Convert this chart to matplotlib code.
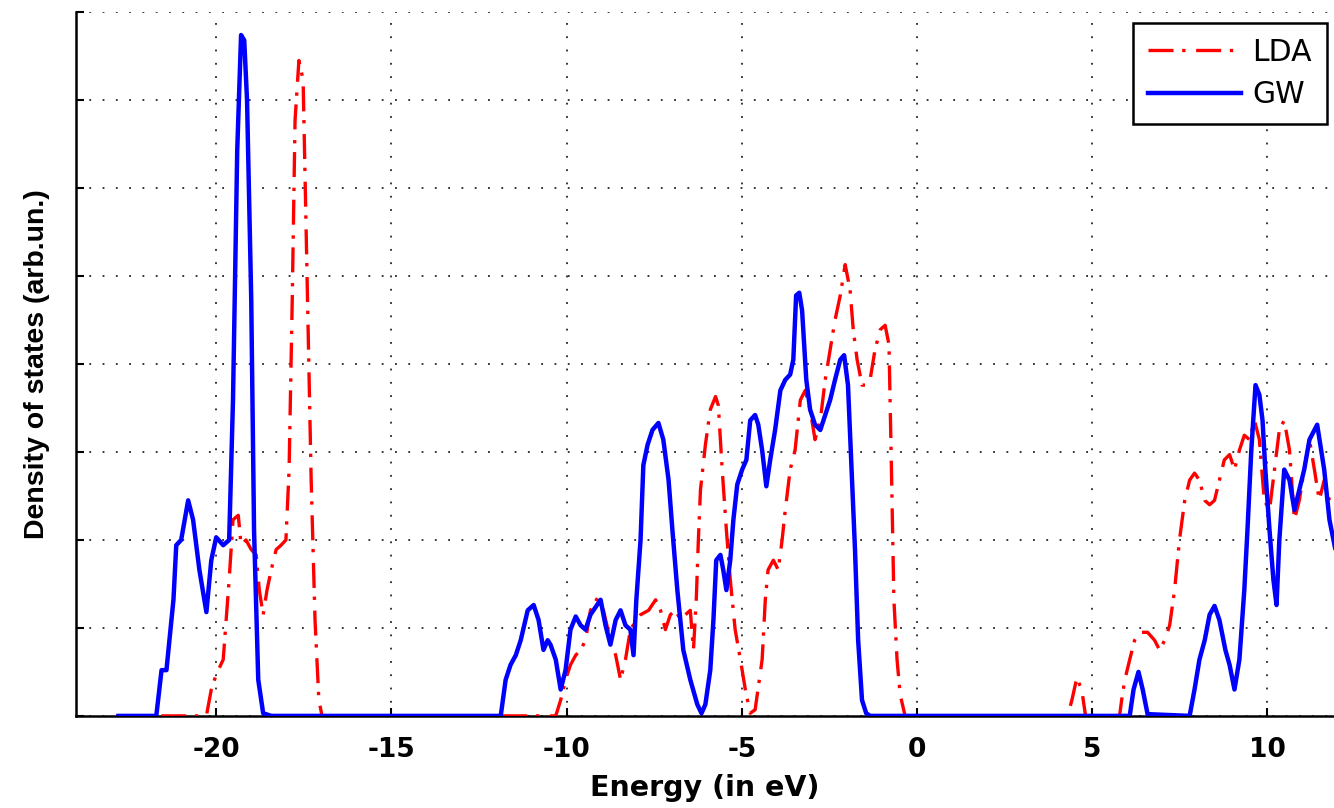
import matplotlib
matplotlib.use("Agg")
import matplotlib.pyplot as plt
import numpy as np

# Density of states, LDA vs GW (energies in eV, DOS in arbitrary units)
lda_energy = [
    -21.57, -20.28, -20.14, -20.00, -19.80, -19.63, -19.52, -19.37, -19.29, -19.15,
    -19.00, -18.86, -18.77, -18.66, -18.55, -18.43, -18.29, -18.15, -18.01, -17.92,
    -17.83, -17.75, -17.64, -17.52, -17.41, -17.29, -17.18, -17.07, -16.98,
    -10.31, -10.17, -10.03, -9.89, -9.74, -9.60, -9.46, -9.32, -9.12, -8.95,
    -8.75, -8.60, -8.46, -8.32, -8.18, -8.01, -7.89, -7.66, -7.46, -7.32,
    -7.18, -7.04, -6.89, -6.75, -6.61, -6.47, -6.38, -6.30, -6.24, -6.18,
    -6.04, -5.90, -5.75, -5.67, -5.56, -5.44, -5.33, -5.19, -5.04, -4.90,
    -4.76, -4.62, -4.42, -4.33, -4.25, -4.10, -3.96, -3.85, -3.76, -3.62,
    -3.48, -3.33, -3.19, -3.05, -2.91, -2.76, -2.62, -2.48, -2.34, -2.19,
    -2.05, -1.91, -1.82, -1.71, -1.57, -1.45, -1.34, -1.20, -1.05, -0.91,
    -0.80, -0.74, -0.66, -0.57, -0.48, -0.34,
    4.30, 4.42, 4.56, 4.70, 4.81,
    5.78, 5.84, 5.93, 6.07, 6.21, 6.35, 6.58, 6.78, 6.92, 7.07,
    7.21, 7.35, 7.49, 7.64, 7.78, 7.92, 8.06, 8.21, 8.35, 8.49,
    8.63, 8.77, 8.92, 9.06, 9.20, 9.34, 9.49, 9.63, 9.77, 9.91,
    10.06, 10.20, 10.34, 10.48, 10.63, 10.77, 10.91, 11.05, 11.20, 11.34,
    11.48, 11.62, 11.77, 11.94,
]
lda_dos = [
    0.0, 0.0, 0.30, 0.47, 0.64, 1.55, 2.23, 2.28, 1.94, 2.00,
    1.89, 1.83, 1.43, 1.15, 1.43, 1.66, 1.89, 1.94, 2.00, 2.80,
    4.73, 6.77, 7.45, 7.23, 5.07, 2.68, 1.09, 0.18, 0.0,
    0.0, 0.18, 0.41, 0.58, 0.69, 0.75, 0.86, 1.20, 1.34, 1.20,
    0.86, 0.69, 0.41, 0.64, 0.98, 1.09, 1.15, 1.20, 1.32, 1.20,
    0.98, 1.15, 1.20, 1.09, 1.15, 1.20, 0.75, 1.32, 2.00, 2.57,
    3.08, 3.48, 3.63, 3.53, 2.80, 2.11, 1.55, 0.98, 0.64, 0.30,
    0.03, 0.07, 0.64, 1.32, 1.66, 1.77, 1.66, 2.00, 2.34, 2.80,
    3.02, 3.59, 3.70, 3.48, 3.14, 3.36, 3.82, 4.16, 4.50, 4.78,
    5.13, 4.84, 4.39, 4.05, 3.76, 3.76, 3.82, 4.16, 4.39, 4.44,
    4.22, 3.02, 1.32, 0.64, 0.24, 0.0,
    0.0, 0.18, 0.43, 0.30, 0.0,
    0.0, 0.18, 0.41, 0.64, 0.86, 0.95, 0.95, 0.86, 0.75, 0.86,
    1.03, 1.43, 2.00, 2.45, 2.68, 2.76, 2.68, 2.45, 2.40, 2.45,
    2.68, 2.91, 2.97, 2.80, 3.02, 3.19, 3.14, 3.36, 3.14, 2.45,
    2.34, 2.80, 3.25, 3.36, 3.02, 2.23, 2.45, 2.80, 3.14, 2.80,
    2.45, 2.68, 2.45, 2.34,
]

gw_energy = [
    -22.79, -21.71, -21.56, -21.42, -21.22, -21.14, -21.00, -20.80, -20.66, -20.48,
    -20.28, -20.14, -20.00, -19.80, -19.63, -19.52, -19.40, -19.29, -19.20, -19.12,
    -19.00, -18.92, -18.80, -18.66, -18.43,
    -11.88, -11.74, -11.60, -11.45, -11.31, -11.11, -10.94, -10.80, -10.66, -10.54,
    -10.46, -10.31, -10.17, -10.03, -9.89, -9.74, -9.60, -9.46, -9.32, -9.03,
    -8.89, -8.75, -8.60, -8.46, -8.32, -8.18, -8.09, -8.01, -7.89, -7.81,
    -7.69, -7.55, -7.38, -7.24, -7.09, -6.98, -6.84, -6.67, -6.47, -6.27,
    -6.15, -6.04, -5.90, -5.81, -5.73, -5.61, -5.53, -5.44, -5.33, -5.24,
    -5.13, -4.99, -4.87, -4.76, -4.62, -4.53, -4.42, -4.30, -4.19, -4.05,
    -3.90, -3.76, -3.62, -3.53, -3.45, -3.36, -3.28, -3.16, -3.05, -2.91,
    -2.76, -2.62, -2.48, -2.34, -2.19, -2.08, -1.97, -1.88, -1.77, -1.68,
    -1.57, -1.45, -1.34,
    6.07, 6.18, 6.32, 6.44, 6.58,
    7.78, 7.92, 8.06, 8.21, 8.35, 8.49, 8.63, 8.80, 8.92, 9.06,
    9.20, 9.34, 9.43, 9.54, 9.66, 9.77, 9.86, 9.94, 10.06, 10.17,
    10.26, 10.34, 10.48, 10.63, 10.77, 10.91, 11.05, 11.20, 11.42, 11.62,
    11.77, 11.94,
]
gw_dos = [
    0.0, 0.0, 0.52, 0.52, 1.32, 1.94, 2.00, 2.45, 2.23, 1.66,
    1.18, 1.77, 2.03, 1.94, 2.00, 3.60, 6.43, 7.74, 7.68, 7.00,
    4.73, 2.11, 0.41, 0.03, 0.0,
    0.0, 0.41, 0.58, 0.69, 0.86, 1.20, 1.26, 1.09, 0.75, 0.86,
    0.81, 0.64, 0.30, 0.52, 0.98, 1.13, 1.03, 0.98, 1.15, 1.32,
    1.03, 0.81, 1.09, 1.20, 1.03, 0.98, 0.69, 1.32, 2.00, 2.85,
    3.08, 3.25, 3.33, 3.14, 2.68, 2.11, 1.43, 0.75, 0.41, 0.13,
    0.03, 0.13, 0.52, 1.09, 1.77, 1.83, 1.66, 1.43, 1.77, 2.23,
    2.63, 2.80, 2.91, 3.36, 3.42, 3.31, 3.02, 2.61, 2.91, 3.25,
    3.70, 3.82, 3.88, 4.05, 4.78, 4.81, 4.61, 3.82, 3.48, 3.31,
    3.25, 3.42, 3.59, 3.82, 4.05, 4.10, 3.76, 2.91, 1.89, 0.86,
    0.18, 0.03, 0.0,
    0.0, 0.30, 0.50, 0.30, 0.02,
    0.0, 0.30, 0.64, 0.86, 1.15, 1.25, 1.09, 0.75, 0.58, 0.30,
    0.64, 1.43, 2.11, 3.02, 3.76, 3.65, 3.36, 2.80, 2.11, 1.55,
    1.26, 2.00, 2.80, 2.68, 2.34, 2.57, 2.80, 3.14, 3.31, 2.80,
    2.23, 1.89,
]

x_ticks = [-20, -15, -10, -5, 0, 5, 10]
y_grid = [0, 1, 2, 3, 4, 5, 6, 7, 8]

plt.rcParams["font.family"] = ["DejaVu Sans"]
plt.rcParams["axes.unicode_minus"] = False

fig = plt.figure(figsize=(13.34, 8.08), dpi=100)
ax = fig.add_axes([0.057, 0.114, 0.943, 0.871])

ax.plot(lda_energy, lda_dos, color="#ff0000", lw=2.4,
        linestyle=(0, (7.5, 2.6, 1.0, 3.2)), label="LDA", zorder=3)
ax.plot(gw_energy, gw_dos, color="#0000ff", lw=3.2, label="GW", zorder=4)

ax.set_xlim(-24, 11.9)
ax.set_ylim(0, 8)
ax.set_xticks(x_ticks)
ax.set_yticks(y_grid)
ax.set_yticklabels([])
ax.set_xticklabels([str(t) for t in x_ticks], fontsize=19, fontweight="bold")

ax.grid(True, color="black", linestyle=(0, (1.2, 7.5)), linewidth=1.1)
ax.tick_params(axis="both", direction="in", length=6, width=1.5, pad=15,
               top=False, right=False)

for side in ("top", "right"):
    ax.spines[side].set_visible(False)
ax.spines["left"].set_linewidth(1.8)
ax.spines["bottom"].set_linewidth(1.8)

ax.set_xlabel("Energy (in eV)", fontsize=20.5, fontweight="bold", labelpad=8)
ax.set_ylabel("Density of states (arb.un.)", family=["Liberation Sans", "DejaVu Sans"],
              fontsize=20.5, fontweight="bold", labelpad=4)

leg = ax.legend(loc="upper right", bbox_to_anchor=(0.9945, 0.985),
                borderaxespad=0.0,
                prop={"family": "DejaVu Sans", "size": 21.5},
                handlelength=3.1, handletextpad=0.4, borderpad=0.5,
                labelspacing=0.45, fancybox=False, framealpha=1.0,
                edgecolor="black")
leg.get_frame().set_linewidth(1.8)

fig.savefig("out.png", dpi=100)
